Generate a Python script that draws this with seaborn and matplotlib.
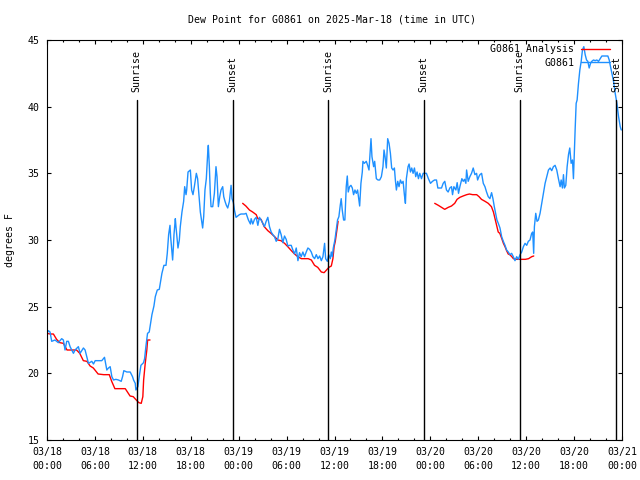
import matplotlib
matplotlib.use("Agg")
import matplotlib.pyplot as plt
import matplotlib.dates as mdates
from matplotlib.lines import Line2D
import pandas as pd
import seaborn as sns

START = pd.Timestamp("2025-03-18 00:00")
TITLE = "Dew Point for G0861 on 2025-Mar-18 (time in UTC)"
BLUE = "#1e90ff"
FS = 7.1

# station observations: hours after 03/18 00:00 UTC, dew point (F)
obs_hours = [
    0.00, 0.17, 0.38, 0.59, 1.00, 1.42, 1.84, 2.05, 2.26, 2.47,
    2.68, 2.89, 3.10, 3.31, 3.51, 3.93, 4.14, 4.56, 4.77, 4.98,
    5.19, 5.61, 5.82, 6.03, 6.44, 6.86, 7.20, 7.49, 7.70, 7.91,
    8.12, 8.33, 8.62, 8.95, 9.29, 9.46, 9.62, 10.00, 10.42, 10.71,
    10.84, 11.05, 11.13, 11.38, 11.55, 11.76, 12.09, 12.22, 12.38, 12.59,
    12.80, 12.97, 13.14, 13.39, 13.56, 13.81, 14.06, 14.23, 14.39, 14.64,
    14.90, 15.06, 15.23, 15.40, 15.48, 15.73, 15.82, 15.90, 16.07, 16.15,
    16.40, 16.57, 16.69, 16.90, 17.11, 17.24, 17.41, 17.49, 17.66, 17.95,
    18.11, 18.28, 18.45, 18.70, 18.86, 19.07, 19.20, 19.37, 19.49, 19.62,
    19.78, 19.95, 20.12, 20.20, 20.33, 20.45, 20.54, 20.75, 20.96, 21.16,
    21.29, 21.46, 21.63, 21.79, 22.00, 22.13, 22.29, 22.46, 22.63, 22.84,
    23.05, 23.17, 23.34, 23.47, 23.67, 23.88, 24.09, 24.30, 24.72, 24.93,
    25.22, 25.47, 25.56, 25.77, 25.98, 26.19, 26.40, 26.60, 26.81, 27.02,
    27.23, 27.44, 27.65, 27.86, 28.07, 28.28, 28.49, 28.70, 28.91, 29.11,
    29.32, 29.53, 29.74, 29.95, 30.16, 30.37, 30.58, 30.79, 31.00, 31.21,
    31.42, 31.62, 31.83, 32.04, 32.25, 32.46, 32.67, 32.88, 33.09, 33.30,
    33.51, 33.72, 33.93, 34.14, 34.35, 34.55, 34.76, 34.89, 35.10, 35.27,
    35.48, 35.60, 35.73, 35.85, 36.05, 36.22, 36.38, 36.55, 36.72, 36.84,
    36.97, 37.14, 37.30, 37.47, 37.60, 37.72, 37.89, 38.06, 38.23, 38.39,
    38.56, 38.73, 38.89, 39.06, 39.15, 39.31, 39.48, 39.56, 39.73, 39.98,
    40.15, 40.32, 40.40, 40.57, 40.69, 40.90, 41.03, 41.24, 41.45, 41.66,
    41.87, 42.07, 42.20, 42.33, 42.49, 42.66, 42.83, 43.00, 43.16, 43.33,
    43.50, 43.62, 43.75, 43.92, 44.08, 44.25, 44.42, 44.59, 44.75, 44.88,
    45.00, 45.21, 45.34, 45.51, 45.67, 45.84, 46.01, 46.17, 46.34, 46.51,
    46.68, 46.89, 47.10, 47.51, 47.76, 48.02, 48.27, 48.52, 48.77, 48.94,
    49.10, 49.40, 49.61, 49.81, 50.02, 50.23, 50.44, 50.65, 50.78, 50.95,
    51.20, 51.36, 51.53, 51.70, 51.95, 52.12, 52.28, 52.45, 52.54, 52.74,
    52.95, 53.16, 53.37, 53.58, 53.79, 53.92, 54.08, 54.21, 54.42, 54.63,
    54.84, 55.04, 55.25, 55.46, 55.67, 55.84, 56.01, 56.17, 56.34, 56.51,
    56.72, 56.93, 57.14, 57.35, 57.55, 57.76, 57.97, 58.18, 58.39, 58.60,
    58.81, 59.02, 59.23, 59.44, 59.65, 59.86, 60.07, 60.27, 60.48, 60.69,
    60.82, 60.94, 61.03, 61.20, 61.36, 61.53, 61.74, 61.95, 62.16, 62.37,
    62.58, 62.79, 63.00, 63.20, 63.41, 63.62, 63.83, 64.04, 64.25, 64.38,
    64.54, 64.67, 64.79, 64.96, 65.13, 65.30, 65.46, 65.63, 65.80, 65.92,
    66.01, 66.13, 66.26, 66.38, 66.55, 66.72, 66.89, 67.05, 67.22, 67.39,
    67.56, 67.72, 67.89, 68.06, 68.22, 68.43, 68.64, 68.85, 69.06, 69.27,
    69.48, 69.90, 70.23, 70.40, 70.53, 70.74, 70.94, 71.15, 71.36, 71.57,
    71.78, 71.91,
]
obs_dewpt = [
    23.0, 23.2, 23.1, 22.4, 22.5, 22.3, 22.6, 22.5, 21.75, 22.4,
    22.4, 22.0, 21.75, 21.5, 21.75, 22.0, 21.5, 21.9, 21.75, 21.25,
    20.75, 20.9, 20.7, 20.95, 20.95, 20.95, 21.2, 20.25, 20.4, 20.5,
    19.75, 19.5, 19.55, 19.5, 19.4, 19.75, 20.2, 20.1, 20.1, 19.75,
    19.5, 19.25, 18.75, 19.0, 19.75, 20.6, 20.8, 21.1, 22.0, 23.0,
    23.1, 23.75, 24.4, 25.05, 25.75, 26.25, 26.3, 26.9, 27.5, 28.1,
    28.1, 29.0, 30.4, 31.1, 30.25, 28.5, 29.4, 30.4, 31.6, 31.0,
    29.4, 30.0, 31.0, 32.1, 32.9, 34.0, 33.4, 33.75, 35.1, 35.25,
    33.75, 33.4, 34.0, 35.0, 34.6, 33.0, 32.1, 31.4, 30.9, 31.75,
    33.75, 34.6, 36.5, 37.1, 35.5, 33.5, 32.5, 32.5, 33.5, 35.5,
    34.75, 32.5, 33.25, 33.75, 34.0, 33.25, 32.9, 32.6, 32.4, 32.9,
    34.1, 33.1, 32.8, 32.25, 31.7, 31.8, 31.9, 31.95, 31.95, 32.0,
    31.5, 31.2, 31.6, 31.2, 31.55, 31.7, 31.1, 31.7, 31.5, 31.25,
    31.0, 31.4, 31.7, 31.0, 30.6, 30.4, 30.25, 29.9, 30.1, 30.8,
    30.4, 29.8, 30.3, 30.05, 29.55, 29.6, 29.6, 29.25, 28.95, 29.4,
    28.45, 29.05, 28.75, 29.1, 28.75, 29.1, 29.4, 29.3, 29.1, 28.75,
    28.6, 28.9, 28.6, 28.8, 28.45, 28.75, 29.75, 28.6, 28.4, 28.9,
    28.6, 29.1, 28.75, 29.4, 30.0, 30.75, 31.5, 31.75, 32.6, 33.1,
    32.25, 31.5, 31.5, 34.0, 34.8, 33.6, 34.0, 34.1, 33.9, 33.4,
    33.75, 33.5, 33.75, 33.0, 32.55, 34.25, 35.1, 35.9, 35.75, 35.9,
    35.6, 35.25, 36.0, 37.6, 36.25, 35.5, 35.9, 34.6, 34.5, 34.5,
    34.75, 35.5, 36.75, 36.25, 35.4, 37.6, 37.25, 36.5, 35.4, 35.25,
    35.4, 34.5, 33.75, 34.4, 34.0, 34.5, 34.25, 34.4, 33.4, 32.75,
    34.6, 35.5, 35.7, 35.1, 35.4, 35.0, 35.4, 34.75, 35.1, 34.6,
    35.0, 34.6, 35.0, 35.0, 34.6, 34.25, 34.4, 34.5, 34.5, 33.9,
    33.9, 33.9, 34.25, 34.4, 33.75, 33.6, 33.9, 34.0, 33.4, 34.0,
    33.75, 34.3, 33.5, 34.0, 34.6, 34.4, 34.55, 34.25, 35.25, 34.4,
    34.75, 35.0, 35.4, 34.9, 35.0, 34.5, 34.75, 34.9, 35.0, 34.25,
    34.0, 33.6, 33.25, 33.1, 33.55, 33.1, 32.5, 32.0, 31.5, 31.25,
    30.9, 30.25, 29.9, 29.6, 29.25, 29.1, 28.9, 29.0, 28.75, 28.45,
    28.75, 28.55, 28.9, 29.1, 29.5, 29.75, 29.6, 29.9, 30.0, 30.5,
    30.6, 29.0, 31.0, 32.0, 31.4, 31.5, 32.0, 32.75, 33.5, 34.25,
    34.75, 35.25, 35.4, 35.2, 35.5, 35.6, 35.25, 34.6, 34.0, 34.5,
    33.9, 34.9, 33.9, 34.1, 35.5, 36.4, 36.9, 35.75, 36.0, 34.6,
    36.25, 38.25, 40.25, 40.5, 41.75, 42.75, 43.4, 44.25, 44.5, 43.9,
    43.5, 43.4, 42.9, 43.25, 43.4, 43.5, 43.45, 43.5, 43.4, 43.6,
    43.8, 43.8, 43.8, 43.5, 43.1, 42.5, 41.9, 41.0, 40.25, 39.25,
    38.5, 38.25,
]

# analysis, three morning runs
anl_hours_18 = [0.0, 0.4, 0.8, 1.2, 1.6, 2.05, 2.5, 3.1, 3.7, 4.1, 4.55, 5.0, 5.4, 5.8,
                6.4, 7.1, 7.8, 8.1, 8.5, 9.8, 10.4, 10.8, 11.1, 11.5, 11.8, 12.0, 12.1,
                12.3, 12.5, 12.6, 12.9]
anl_dewpt_18 = [23.0, 22.95, 22.95, 22.55, 22.3, 22.25, 21.75, 21.75, 21.75, 21.5, 20.95,
                20.9, 20.55, 20.4, 19.95, 19.9, 19.9, 19.4, 18.85, 18.85, 18.3, 18.25, 18.05,
                17.8, 17.75, 18.25, 19.5, 20.75, 21.75, 22.5, 22.5]
anl_hours_19 = [24.5, 24.9, 25.35, 25.75, 26.2, 26.4, 26.8, 27.2, 27.65, 28.05, 28.5, 28.9,
                29.3, 29.75, 30.15, 30.6, 31.0, 31.4, 31.85, 32.7, 33.1, 33.5, 33.9, 34.35,
                34.7, 35.0, 35.3, 35.6, 35.8, 35.95, 36.1, 36.3, 36.45]
anl_dewpt_19 = [32.75, 32.55, 32.25, 32.1, 31.9, 31.6, 31.55, 31.0, 30.7, 30.5, 30.25, 30.0,
                29.95, 29.75, 29.5, 29.2, 28.95, 28.75, 28.6, 28.6, 28.5, 28.1, 27.95, 27.6,
                27.55, 27.75, 27.95, 28.05, 28.6, 29.5, 29.9, 30.75, 31.4]
anl_hours_20 = [48.55, 49.0, 49.4, 49.8, 50.25, 50.65, 51.05, 51.35, 51.7, 52.1, 52.55, 52.9,
                53.3, 53.8, 54.1, 54.4, 54.85, 55.25, 55.65, 55.9, 56.1, 56.3, 56.5, 56.7,
                56.95, 57.15, 57.35, 57.55, 57.75, 57.95, 58.2, 58.4, 58.8, 59.9, 60.3,
                60.7, 60.95]
anl_dewpt_20 = [32.75, 32.6, 32.45, 32.3, 32.45, 32.55, 32.75, 33.05, 33.2, 33.3, 33.4, 33.45,
                33.4, 33.4, 33.25, 33.05, 32.9, 32.75, 32.5, 32.1, 31.6, 31.1, 30.6, 30.5,
                30.1, 29.75, 29.5, 29.2, 28.95, 28.9, 28.75, 28.6, 28.55, 28.55, 28.6,
                28.75, 28.8]

sun_times = ["2025-03-18 11:13", "2025-03-18 23:14", "2025-03-19 11:13",
             "2025-03-19 23:10", "2025-03-20 11:11", "2025-03-20 23:15"]
sun_labels = ["Sunrise", "Sunset", "Sunrise", "Sunset", "Sunrise", "Sunset"]


def to_time(hours):
    return START + pd.to_timedelta(pd.Series(hours), unit="h")


obs = pd.DataFrame({"time": to_time(obs_hours), "dewpt": obs_dewpt})
anl = pd.concat([
    pd.DataFrame({"time": to_time(h), "dewpt": f, "run": i})
    for i, (h, f) in enumerate([(anl_hours_18, anl_dewpt_18),
                                (anl_hours_19, anl_dewpt_19),
                                (anl_hours_20, anl_dewpt_20)])
], ignore_index=True)

sns.set_style("white")
plt.rcParams["font.family"] = ["DejaVu Sans Mono"]
plt.rcParams["text.color"] = "black"

fig = plt.figure(figsize=(6.4, 4.8), dpi=100)
ax = fig.add_axes([47 / 640, 40 / 480, 575 / 640, 400 / 480])

sns.lineplot(data=anl, x="time", y="dewpt", units="run", estimator=None, sort=False,
             color="red", lw=1.0, ax=ax)
sns.lineplot(data=obs, x="time", y="dewpt", estimator=None, sort=False,
             color=BLUE, lw=1.0, ax=ax)

for t, lab in zip(sun_times, sun_labels):
    t = pd.Timestamp(t)
    ax.axvline(t, ymin=0, ymax=0.85, color="black", lw=1.0, zorder=3)
    ax.text(t, 0.87, lab, transform=ax.get_xaxis_transform(), rotation=90,
            ha="center", va="bottom", fontsize=FS)

ax.set_xlim(START, START + pd.Timedelta(hours=72))
ax.set_ylim(15, 45)
ax.set_yticks(range(15, 46, 5))
ax.xaxis.set_major_locator(mdates.HourLocator(byhour=[0, 6, 12, 18]))
ax.xaxis.set_minor_locator(mdates.HourLocator(byhour=range(0, 24, 2)))
ax.xaxis.set_major_formatter(mdates.DateFormatter("%m/%d\n%H:%M"))
ax.set_xlabel("")
ax.set_ylabel("")

ax.tick_params(which="both", direction="in", top=True, right=True, bottom=True, left=True,
               color="black", width=0.8, labelsize=FS, labelcolor="black")
ax.tick_params(which="major", length=3.2)
ax.tick_params(which="minor", length=1.6)
ax.tick_params(axis="x", pad=5)
ax.tick_params(axis="y", pad=5.5)
for sp in ax.spines.values():
    sp.set_color("black")
    sp.set_linewidth(0.8)

handles = [Line2D([], [], color="red", lw=1.0), Line2D([], [], color=BLUE, lw=1.0)]
ax.legend(handles, ["G0861 Analysis", "G0861"], loc="upper right",
          bbox_to_anchor=(0.979, 0.99), markerfirst=False, frameon=False, fontsize=FS,
          handlelength=2.9, handletextpad=0.7, borderpad=0, borderaxespad=0,
          labelspacing=0.4)

fig.text(332 / 640, 1 - 19 / 480, TITLE, ha="center", va="center", fontsize=FS)
fig.text(10 / 640, 0.5, "degrees F", rotation=90, ha="center", va="center", fontsize=FS)

fig.canvas.draw()
for lbl in ax.get_xticklabels():
    lbl.set_linespacing(1.45)

fig.savefig("out.png", dpi=100)
